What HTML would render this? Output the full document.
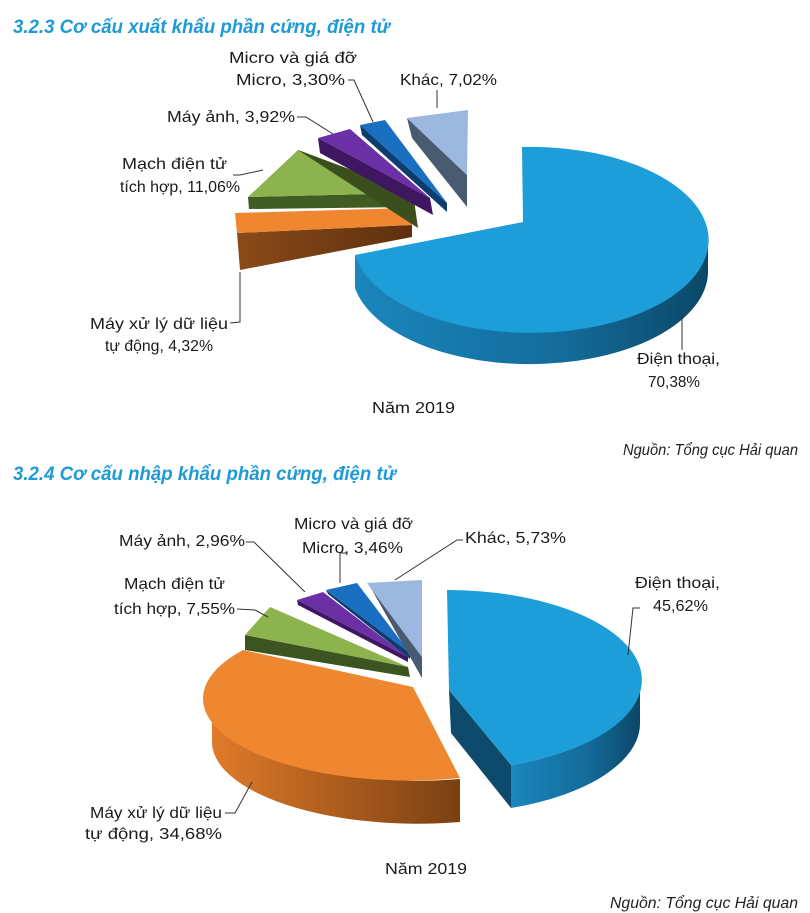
<!DOCTYPE html>
<html><head><meta charset="utf-8"><style>
html,body{margin:0;padding:0;background:#fff;}
svg{display:block;}
text{font-family:"Liberation Sans",sans-serif;fill:#1a1a1a;}
.t{font-weight:bold;font-style:italic;fill:#1e9ad6;font-size:19px;}
.l{font-size:16px;}
.s{font-style:italic;font-size:16px;fill:#222;}
</style></head><body>
<svg width="810" height="913" viewBox="0 0 810 913" xmlns="http://www.w3.org/2000/svg">
<defs>
<linearGradient id="bs" x1="0" x2="1"><stop offset="0" stop-color="#1a86bd"/><stop offset="0.6" stop-color="#136b99"/><stop offset="1" stop-color="#0b4767"/></linearGradient>
<linearGradient id="os" x1="0" x2="1"><stop offset="0" stop-color="#e07a2a"/><stop offset="1" stop-color="#7a4012"/></linearGradient>
<linearGradient id="br" x1="0" x2="1"><stop offset="0" stop-color="#8a4a18"/><stop offset="1" stop-color="#5e3010"/></linearGradient>
</defs>
<g lengthAdjust="spacingAndGlyphs">
<text class="t" x="13" y="33" textLength="377" lengthAdjust="spacingAndGlyphs">3.2.3 Cơ cấu xuất khẩu phần cứng, điện tử</text>
<text class="t" x="13" y="480" textLength="383" lengthAdjust="spacingAndGlyphs">3.2.4 Cơ cấu nhập khẩu phần cứng, điện tử</text>
</g>

<!-- TOP CHART -->
<path d="M355,255 A178,93 0 0 0 708,240 L708,273 A178,93 0 0 1 355,288 Z" fill="url(#bs)"/>
<path d="M523,222 L522,147 A178,93 0 1 1 355,255 Z" fill="#1e9ed8"/>
<polygon points="237,233 412,225 412,237 240,270" fill="url(#br)"/>
<polygon points="235,213 407,208 412,225 237,233" fill="#ef8630"/>
<polygon points="248,197 413,193 415,207 249,209" fill="#415c22"/>
<polygon points="298,150 248,197 413,193" fill="#8db34e"/>
<polygon points="413,193 298,150 418,228 415,207" fill="#3a4e1e"/>
<polygon points="318,138 430,198 433,215 320,153" fill="#3e1662"/>
<polygon points="318,138 350,129 430,198" fill="#6c30a6"/>
<polygon points="360,125 447,203 447,212 362,135" fill="#0c3d6e"/>
<polygon points="360,125 385,120 447,203" fill="#1b6fc0"/>
<polygon points="407,118 467,175 467,207 412,138" fill="#4a5a70"/>
<polygon points="407,118 468,110 467,175" fill="#9cb8df"/>

<text class="l" x="229" y="63" textLength="128" lengthAdjust="spacingAndGlyphs">Micro và giá đỡ</text>
<text class="l" x="236" y="85" textLength="109" lengthAdjust="spacingAndGlyphs">Micro, 3,30%</text>
<text class="l" x="400" y="85" textLength="97" lengthAdjust="spacingAndGlyphs">Khác, 7,02%</text>
<text class="l" x="167" y="122" textLength="128" lengthAdjust="spacingAndGlyphs">Máy ảnh, 3,92%</text>
<text class="l" x="122" y="169" textLength="105" lengthAdjust="spacingAndGlyphs">Mạch điện tử</text>
<text class="l" x="120" y="192" textLength="120" lengthAdjust="spacingAndGlyphs">tích hợp, 11,06%</text>
<text class="l" x="90" y="329" textLength="138" lengthAdjust="spacingAndGlyphs">Máy xử lý dữ liệu</text>
<text class="l" x="105" y="351" textLength="108" lengthAdjust="spacingAndGlyphs">tự động, 4,32%</text>
<text class="l" x="637" y="364" textLength="83" lengthAdjust="spacingAndGlyphs">Điện thoại,</text>
<text class="l" x="648" y="387" textLength="52" lengthAdjust="spacingAndGlyphs">70,38%</text>
<text class="l" x="372" y="413" textLength="83" lengthAdjust="spacingAndGlyphs">Năm 2019</text>
<text class="s" x="623" y="455" textLength="175" lengthAdjust="spacingAndGlyphs">Nguồn: Tổng cục Hải quan</text>
<g stroke="#333" stroke-width="1" fill="none">
<polyline points="348,80 354,80 373,122"/>
<polyline points="297,117 306,117 333,134"/>
<polyline points="233,175 240,175 263,170"/>
<polyline points="437,90 437,108"/>
<polyline points="230,323 240,322 240,272"/>
<polyline points="682,350 682,313"/>
</g>

<!-- BOTTOM CHART -->
<path d="M640,680 A195,90 0 0 1 511,765 L511,808 A195,90 0 0 0 640,723 Z" fill="url(#bs)"/>
<path d="M449,690 L511,765 L511,808 L451,733 Z" fill="#0d4a6b"/>
<path d="M449,690 L447,590 A195,90 0 0 1 511,765 Z" fill="#1e9ed8"/>
<path d="M212,697 A206,82 0 0 0 460,779 L460,822 A206,82 0 0 1 212,740 Z" fill="url(#os)"/>
<path d="M413,687 L243,650 A206,82 0 0 0 460,778 Z" fill="#ef8630"/>
<polygon points="245,635 408,667 410,677 245,650" fill="#3c5420"/>
<polygon points="270,607 245,635 408,667" fill="#8db34e"/>
<polygon points="297,600 408,657 408,662 298,605" fill="#3e1662"/>
<polygon points="297,600 323,592 408,657" fill="#6c30a6"/>
<polygon points="326,590 410,653 410,659 328,594" fill="#0c3d6e"/>
<polygon points="326,590 357,583 410,653" fill="#1b6fc0"/>
<polygon points="367,583 422,657 422,678 372,590" fill="#4a5a70"/>
<polygon points="367,583 422,580 422,657" fill="#9cb8df"/>

<text class="l" x="294" y="529" textLength="119" lengthAdjust="spacingAndGlyphs">Micro và giá đỡ</text>
<text class="l" x="302" y="553" textLength="101" lengthAdjust="spacingAndGlyphs">Micro, 3,46%</text>
<text class="l" x="119" y="546" textLength="126" lengthAdjust="spacingAndGlyphs">Máy ảnh, 2,96%</text>
<text class="l" x="465" y="543" textLength="101" lengthAdjust="spacingAndGlyphs">Khác, 5,73%</text>
<text class="l" x="635" y="588" textLength="85" lengthAdjust="spacingAndGlyphs">Điện thoại,</text>
<text class="l" x="653" y="611" textLength="55" lengthAdjust="spacingAndGlyphs">45,62%</text>
<text class="l" x="124" y="589" textLength="101" lengthAdjust="spacingAndGlyphs">Mạch điện tử</text>
<text class="l" x="114" y="614" textLength="121" lengthAdjust="spacingAndGlyphs">tích hợp, 7,55%</text>
<text class="l" x="90" y="818" textLength="132" lengthAdjust="spacingAndGlyphs">Máy xử lý dữ liệu</text>
<text class="l" x="85" y="839" textLength="137" lengthAdjust="spacingAndGlyphs">tự động, 34,68%</text>
<text class="l" x="385" y="874" textLength="82" lengthAdjust="spacingAndGlyphs">Năm 2019</text>
<text class="s" x="610" y="908" textLength="188" lengthAdjust="spacingAndGlyphs">Nguồn: Tổng cục Hải quan</text>
<g stroke="#333" stroke-width="1" fill="none">
<polyline points="246,542 254,542 305,592"/>
<polyline points="347,553 340,553 340,583"/>
<polyline points="463,540 457,540 395,580"/>
<polyline points="237,609 255,610 268,617"/>
<polyline points="640,608 633,608 628,655"/>
<polyline points="225,813 235,813 252,782"/>
</g>
</svg>
</body></html>
